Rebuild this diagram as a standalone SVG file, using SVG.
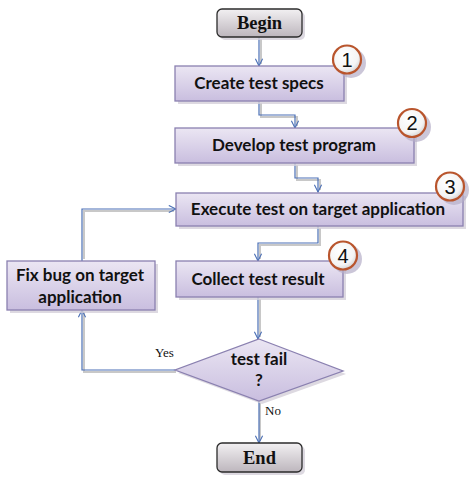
<svg xmlns="http://www.w3.org/2000/svg" width="469" height="479" viewBox="0 0 469 479">
<defs>
<linearGradient id="gBox" x1="0" y1="0" x2="0" y2="1">
<stop offset="0" stop-color="#ebe6f3"/>
<stop offset="1" stop-color="#c9bedf"/>
</linearGradient>
<linearGradient id="gTerm" x1="0" y1="0" x2="0" y2="1">
<stop offset="0" stop-color="#f2f0f2"/>
<stop offset="1" stop-color="#bdb6bd"/>
</linearGradient>
<radialGradient id="gCirc" cx="0.4" cy="0.35" r="0.7">
<stop offset="0" stop-color="#ffffff"/>
<stop offset="0.7" stop-color="#f4f4f4"/>
<stop offset="1" stop-color="#cfcfcf"/>
</radialGradient>
<marker id="arr" viewBox="0 0 10 10" refX="9" refY="5" markerWidth="9" markerHeight="9" orient="auto" markerUnits="userSpaceOnUse">
<path d="M1,1 L9,5 L1,9" fill="none" stroke="#4a6fb5" stroke-width="1.2"/>
</marker>
</defs>
<style>
.box{fill:url(#gBox);stroke:#8a80b0;stroke-width:1.3}
.term{fill:url(#gTerm);stroke:#2b2b2b;stroke-width:1.3}
.sh{fill:#d4d0da;opacity:0.8}
.lbl{font-family:Lato,"Open Sans",sans-serif;font-weight:bold;font-size:17px;fill:#111;text-anchor:middle}
.tt{font-family:"Liberation Serif",serif;font-weight:bold;font-size:18.5px;fill:#111;text-anchor:middle}
.sm{font-family:"Liberation Serif",serif;font-size:13px;fill:#111}
.circ{fill:url(#gCirc);stroke:#b9552d;stroke-width:2.2}
.csh{fill:#b5aec7;opacity:0.7}
.num{font-family:"Liberation Sans",sans-serif;font-size:20px;fill:#111;text-anchor:middle}
.ln{fill:none;stroke:#4a6fb5;stroke-width:1.2}
.lsh{fill:none;stroke:#c8c8c8;stroke-width:2}
</style>
<g id="connectors">
<path class="lsh" d="M261,39 V64 M261,103 V117 H297 V126 M297,165 V180 H320 V190 M320,228 V245 H260 V259 M260,299 V337 M260,403 V441 M176,372 H84 V312 M84,259 V211 H174"/>
<path class="ln" d="M259,37 V66" marker-end="url(#arr)"/>
<path class="ln" d="M259,101 V115 H295 V128" marker-end="url(#arr)"/>
<path class="ln" d="M295,163 V178 H318 V192" marker-end="url(#arr)"/>
<path class="ln" d="M318,226 V243 H258 V261" marker-end="url(#arr)"/>
<path class="ln" d="M258,297 V339" marker-end="url(#arr)"/>
<path class="ln" d="M259,401 V443" marker-end="url(#arr)"/>
<path class="ln" d="M175,370 H82 V310" marker-end="url(#arr)"/>
<path class="ln" d="M82,261 V209 H176" marker-end="url(#arr)"/>
<text class="sm" x="155" y="357">Yes</text>
<text class="sm" x="265" y="415">No</text>
</g>
<g id="begin">
<rect class="sh" x="220" y="12" width="85" height="28" rx="5"/>
<rect class="term" x="217" y="9" width="85" height="28" rx="5"/>
<text class="tt" x="259.5" y="29">Begin</text>
</g>
<g id="create">
<rect class="sh" x="178" y="69" width="169" height="35"/>
<rect class="box" x="175" y="66" width="169" height="35"/>
<text class="lbl" x="259" y="89">Create test specs</text>
</g>
<g id="develop">
<rect class="sh" x="178" y="131" width="239" height="35"/>
<rect class="box" x="175" y="128" width="239" height="35"/>
<text class="lbl" x="294" y="151">Develop test program</text>
</g>
<g id="execute">
<rect class="sh" x="179" y="196" width="287" height="33"/>
<rect class="box" x="176" y="193" width="287" height="33"/>
<text class="lbl" x="318" y="215">Execute test on target application</text>
</g>
<g id="collect">
<rect class="sh" x="179" y="264" width="167" height="36"/>
<rect class="box" x="176" y="261" width="167" height="36"/>
<text class="lbl" x="258" y="285">Collect test result</text>
</g>
<g id="fixbug">
<rect class="sh" x="10" y="264" width="148" height="49"/>
<rect class="box" x="7" y="261" width="148" height="49"/>
<text class="lbl" x="80" y="281">Fix bug on  target</text>
<text class="lbl" x="80" y="303">application</text>
</g>
<g id="decision">
<polygon class="sh" points="262,342 346,374 262,404 178,373"/>
<polygon class="box" points="259,339 343,371 259,401 175,370"/>
<text class="lbl" x="259" y="365">test fail</text>
<text class="lbl" x="259" y="386">?</text>
</g>
<g id="end">
<rect class="sh" x="220" y="446" width="85" height="29" rx="5"/>
<rect class="term" x="217" y="443" width="85" height="29" rx="5"/>
<text class="tt" x="259.5" y="463.5">End</text>
</g>
<g id="badge1">
<circle class="csh" cx="351" cy="63" r="15"/>
<circle class="circ" cx="347" cy="59.5" r="14"/>
<text class="num" x="347" y="66.5">1</text>
</g>
<g id="badge2">
<circle class="csh" cx="416" cy="127" r="15"/>
<circle class="circ" cx="412" cy="123" r="14"/>
<text class="num" x="412" y="130">2</text>
</g>
<g id="badge3">
<circle class="csh" cx="454" cy="190" r="15"/>
<circle class="circ" cx="450" cy="186.5" r="14"/>
<text class="num" x="450" y="193.5">3</text>
</g>
<g id="badge4">
<circle class="csh" cx="347" cy="259" r="15"/>
<circle class="circ" cx="343" cy="255.5" r="14"/>
<text class="num" x="343" y="262.5">4</text>
</g>
</svg>
